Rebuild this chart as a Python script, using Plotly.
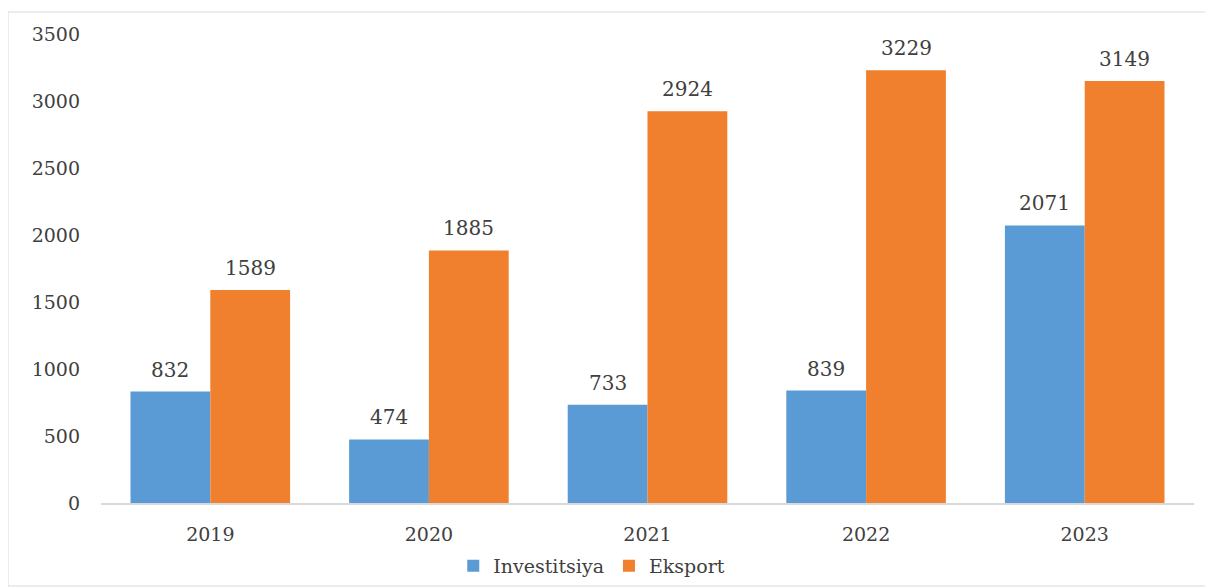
import plotly.graph_objects as go

years = ["2019", "2020", "2021", "2022", "2023"]
investitsiya = [832, 474, 733, 839, 2071]
eksport = [1589, 1885, 2924, 3229, 3149]
y_ticks = [0, 500, 1000, 1500, 2000, 2500, 3000, 3500]

FONT = "DejaVu Serif"
TXT = "#404040"

fig = go.Figure()
fig.add_trace(go.Bar(
    x=years, y=investitsiya, name="Investitsiya",
    marker=dict(color="#5B9BD5", line=dict(width=0)),
))
fig.add_trace(go.Bar(
    x=years, y=eksport, name="Eksport",
    marker=dict(color="#F07F2E", line=dict(width=0)),
))

# value labels above bars (category axis: annotation x given as category index)
annotations = []
for i, v in enumerate(investitsiya):
    annotations.append(dict(x=i, y=v, xref="x", yref="y", text=str(v), showarrow=False,
                            xshift=-40, yshift=22, font=dict(family=FONT, size=20, color=TXT)))
for i, v in enumerate(eksport):
    annotations.append(dict(x=i, y=v, xref="x", yref="y", text=str(v), showarrow=False,
                            xshift=40, yshift=22, font=dict(family=FONT, size=20, color=TXT)))

# page body has an 8px margin; plot area targeted at absolute x 101..1194, y 34..503
OFF = 8
W, H = 1213 - OFF, 587 - OFF
L, T = 101 - OFF, 34 - OFF
pw, ph = 1093, 469
R, B = W - L - pw, H - T - ph

fig.update_layout(
    width=W, height=H,
    margin=dict(l=L, r=R, t=T, b=B, autoexpand=False),
    paper_bgcolor="white", plot_bgcolor="white",
    barmode="group", bargap=0.27, bargroupgap=0,
    font=dict(family=FONT, size=18, color=TXT),
    showlegend=True,
    legend=dict(orientation="h", x=0.449, xanchor="center", y=(503 - 566) / ph, yanchor="middle",
                font=dict(family=FONT, size=19, color=TXT), itemwidth=30,
                tracegroupgap=0),
    xaxis=dict(type="category", showgrid=False, showline=True, linecolor="#d9d9d9", linewidth=1.5,
               ticks="", ticklabelstandoff=13, automargin=False,
               tickfont=dict(family=FONT, size=19, color=TXT)),
    yaxis=dict(range=[0, 3500], tickvals=y_ticks, showgrid=False, showline=False,
               zeroline=False, ticks="", ticklabelstandoff=20, automargin=False,
               tickfont=dict(family=FONT, size=19, color=TXT)),
    annotations=annotations,
    shapes=[dict(type="rect", xref="paper", yref="paper",
                 x0=(8 - 101) / pw, x1=(1212 - 101) / pw,
                 y0=(503 - 586) / ph, y1=(503 - 12) / ph,
                 line=dict(color="#d9d9d9", width=1), fillcolor="rgba(0,0,0,0)", layer="below")],
)

fig.write_html("out.html")
